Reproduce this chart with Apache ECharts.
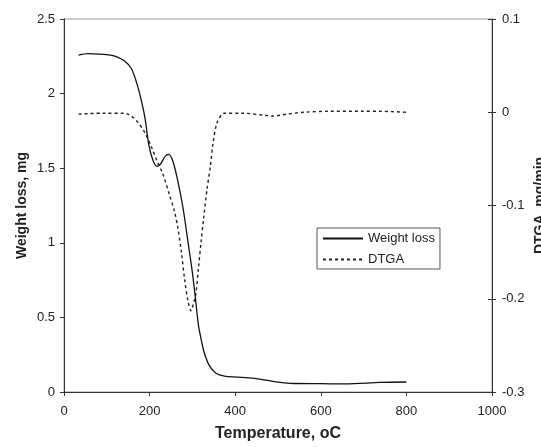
<!DOCTYPE html>
<html>
<head>
<meta charset="utf-8">
<script src="https://cdn.jsdelivr.net/npm/echarts@6/dist/echarts.min.js"></script>
<style>html,body{margin:0;padding:0;background:#fff}#c{width:541px;height:447px}</style>
</head>
<body>
<div id="c"></div>
<script>
// Weight loss curve
var wlTemp = [34,56,80,108,125,141,157,170,181,189,198,207,217,226,236,244,254,266,278,290,300,307,314,320,327,339,355,375,404,432,460,496,537,600,658,739,800];
var wlValues = [2.258,2.268,2.265,2.258,2.245,2.22,2.17,2.07,1.95,1.84,1.66,1.56,1.512,1.53,1.578,1.592,1.55,1.414,1.235,1.0,0.8,0.63,0.45,0.36,0.27,0.18,0.126,0.106,0.1,0.095,0.085,0.068,0.057,0.056,0.054,0.064,0.067];
// DTGA curve
var dtTemp = [34,92,141,157,173,189,205,217,230,246,258,266,274,282,290,297,302,308,314,320,326,334,342,348,357,369,375,416,464,488,521,561,618,698,739,800];
var dtValues = [-0.002,-0.001,-0.001,-0.004,-0.011,-0.022,-0.038,-0.052,-0.065,-0.088,-0.106,-0.124,-0.149,-0.18,-0.203,-0.213,-0.206,-0.195,-0.168,-0.14,-0.115,-0.083,-0.058,-0.034,-0.012,-0.002,-0.001,-0.001,-0.003,-0.004,-0.002,0,0.001,0.001,0.001,0];
var xTicks = {min:0, max:1000, interval:200};
var leftTicks = {min:0, max:2.5, interval:0.5};
var rightTicks = {min:-0.3, max:0.1, interval:0.1};
var seriesNames = ['Weight loss','DTGA'];

function pairs(xs, ys){ return xs.map(function(x,i){return [x, ys[i]];}); }
function plain(v){ return String(Math.round(v*1000)/1000); }

var font = 'Liberation Sans, Arial, sans-serif';
var labelStyle = {fontFamily: font, fontSize: 13, color: '#222', formatter: plain};
var nameStyle = {fontFamily: font, fontSize: 14, fontWeight: 'bold', color: '#222'};

var chart = echarts.init(document.getElementById('c'), null, {renderer:'canvas'});
chart.setOption({
  animation: false,
  backgroundColor: '#fff',
  grid: {left: 64, right: 49, top: 19, bottom: 55, show: true, borderColor: '#999', borderWidth: 1, containLabel: false, outerBoundsMode: 'none'},
  legend: {
    orient: 'vertical', left: 317, top: 228,
    data: seriesNames,
    itemWidth: 40, itemHeight: 14, itemGap: 8,
    padding: [4, 5, 3, 5],
    borderColor: '#555', borderWidth: 1, borderRadius: 0,
    itemStyle: {opacity: 0},
    textStyle: {fontFamily: font, fontSize: 13, color: '#222'},
    backgroundColor: '#fff'
  },
  xAxis: {
    type: 'value', min: xTicks.min, max: xTicks.max, interval: xTicks.interval,
    name: 'Temperature, oC', nameLocation: 'middle', nameGap: 34, nameMoveOverlap: false,
    nameTextStyle: {fontFamily: font, fontSize: 16, fontWeight: 'bold', color: '#222'},
    axisLine: {show: true, onZero: false, lineStyle: {color: '#333', width: 1}},
    axisTick: {show: true, length: 4, lineStyle: {color: '#333'}},
    axisLabel: Object.assign({margin: 13}, labelStyle),
    splitLine: {show: false}
  },
  yAxis: [
    {
      type: 'value', position: 'left', min: leftTicks.min, max: leftTicks.max, interval: leftTicks.interval,
      name: 'Weight loss, mg', nameLocation: 'middle', nameGap: 35, nameRotate: 90, nameMoveOverlap: false,
      nameTextStyle: nameStyle,
      axisLine: {show: true, lineStyle: {color: '#333', width: 1}},
      axisTick: {show: true, length: 4, lineStyle: {color: '#333'}},
      axisLabel: Object.assign({margin: 9}, labelStyle),
      splitLine: {show: false}
    },
    {
      type: 'value', position: 'right', min: rightTicks.min, max: rightTicks.max, interval: rightTicks.interval,
      name: 'DTGA, mg/min', nameLocation: 'middle', nameGap: 41, nameRotate: 90, nameMoveOverlap: false,
      nameTextStyle: nameStyle,
      axisLine: {show: true, onZero: false, lineStyle: {color: '#333', width: 1}},
      axisTick: {show: true, length: 4, lineStyle: {color: '#333'}},
      axisLabel: Object.assign({margin: 10}, labelStyle),
      splitLine: {show: false}
    },
    {
      type: 'value', position: 'right', min: rightTicks.min, max: rightTicks.max, interval: rightTicks.interval,
      axisLine: {show: false},
      axisTick: {show: true, inside: true, length: 4, lineStyle: {color: '#333'}},
      axisLabel: {show: false},
      splitLine: {show: false}
    }
  ],
  series: [
    {
      name: seriesNames[0], type: 'line', yAxisIndex: 0,
      data: pairs(wlTemp, wlValues),
      smooth: 0.3, symbol: 'none', showSymbol: false,
      lineStyle: {color: '#111', width: 1.3},
      itemStyle: {color: '#111'}
    },
    {
      name: seriesNames[1], type: 'line', yAxisIndex: 1,
      data: pairs(dtTemp, dtValues),
      smooth: 0.3, symbol: 'none', showSymbol: false,
      lineStyle: {color: '#222', width: 1.4, type: [3, 3]},
      itemStyle: {color: '#222'}
    }
  ]
});
</script>
</body>
</html>
